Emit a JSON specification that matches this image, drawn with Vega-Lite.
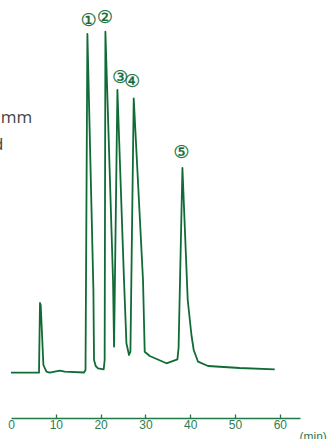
{
  "$schema": "https://vega.github.io/schema/vega-lite/v6.json",
  "width": 289,
  "height": 418,
  "autosize": {"type": "none"},
  "padding": {"left": 11, "top": 0, "right": 28, "bottom": 21},
  "background": "white",
  "config": {"view": {"stroke": null}},
  "datasets": {
    "trace": [
      {"t": 0, "v": 45.3},
      {"t": 6.25, "v": 45.3},
      {"t": 6.47, "v": 115},
      {"t": 6.63, "v": 113},
      {"t": 7.23, "v": 53},
      {"t": 7.9, "v": 46.3},
      {"t": 8.64, "v": 45.3},
      {"t": 10.87, "v": 47.3},
      {"t": 11.99, "v": 46.3},
      {"t": 16.3, "v": 45.5},
      {"t": 16.63, "v": 48},
      {"t": 17.05, "v": 384},
      {"t": 18.39, "v": 128},
      {"t": 18.53, "v": 58},
      {"t": 18.9, "v": 52},
      {"t": 19.42, "v": 49.7},
      {"t": 20.69, "v": 48.7},
      {"t": 20.9, "v": 58},
      {"t": 21.07, "v": 386.3},
      {"t": 22.77, "v": 138},
      {"t": 23.0, "v": 71.3},
      {"t": 23.75, "v": 328},
      {"t": 25.22, "v": 138},
      {"t": 25.76, "v": 74.7},
      {"t": 26.34, "v": 63},
      {"t": 26.65, "v": 66.3},
      {"t": 27.39, "v": 319.7},
      {"t": 29.46, "v": 138},
      {"t": 29.84, "v": 66.3},
      {"t": 30.96, "v": 62},
      {"t": 34.69, "v": 54.7},
      {"t": 37.14, "v": 58.7},
      {"t": 37.4, "v": 70},
      {"t": 38.26, "v": 250},
      {"t": 39.44, "v": 118},
      {"t": 40.27, "v": 83},
      {"t": 40.78, "v": 68},
      {"t": 41.74, "v": 56.3},
      {"t": 43.97, "v": 52},
      {"t": 51.05, "v": 50},
      {"t": 58.86, "v": 48.7}
    ],
    "peaks": [
      {"t": 17.34, "v": 397, "label": "①"},
      {"t": 20.92, "v": 399.7, "label": "②"},
      {"t": 24.35, "v": 339.7, "label": "③"},
      {"t": 27.05, "v": 336, "label": "④"},
      {"t": 38.04, "v": 264.7, "label": "⑤"}
    ],
    "noteLeft": [
      {"t": -2.3, "v": 295, "label": "mm"}
    ],
    "noteRight": [
      {"t": -1.67, "v": 268, "label": "d"}
    ]
  },
  "layer": [
    {
      "data": {"name": "trace"},
      "mark": {"type": "line", "color": "#106b36", "strokeWidth": 1.8, "strokeJoin": "round"},
      "encoding": {
        "x": {
          "field": "t", "type": "quantitative",
          "scale": {"domain": [0, 64.5], "nice": false},
          "axis": {
            "values": [0, 10, 20, 30, 40, 50, 60],
            "title": "(min)",
            "titleX": 288, "titleY": 13, "titleAlign": "left", "titleBaseline": "top",
            "titleAnchor": null, "titleAngle": 0,
            "titleFont": "Liberation Sans", "titleFontSize": 12, "titleFontWeight": "normal", "titleColor": "#2d7d52",
            "labelFont": "Liberation Sans", "labelFontSize": 12, "labelColor": "#2d7d52",
            "labelPadding": 5, "labelFlush": false, "labelOverlap": false,
            "domainColor": "#217a45", "domainWidth": 1.5,
            "tickSize": -4, "tickWidth": 1.3,
            "tickColor": {"condition": {"test": "datum.value === 0", "value": "transparent"}, "value": "#217a45"},
            "grid": false
          }
        },
        "y": {
          "field": "v", "type": "quantitative",
          "scale": {"domain": [0, 418], "nice": false},
          "axis": null
        }
      }
    },
    {
      "data": {"name": "peaks"},
      "mark": {"type": "text", "color": "#106b36", "font": "DejaVu Sans", "fontSize": 17.5, "fontWeight": "normal", "align": "center", "baseline": "middle", "stroke": "#106b36", "strokeWidth": 0.3},
      "encoding": {
        "x": {"field": "t", "type": "quantitative"},
        "y": {"field": "v", "type": "quantitative"},
        "text": {"field": "label"}
      }
    },
    {
      "data": {"name": "noteLeft"},
      "mark": {"type": "text", "color": "#444444", "font": "Open Sans", "fontSize": 17, "baseline": "alphabetic", "align": "left"},
      "encoding": {
        "x": {"field": "t", "type": "quantitative"},
        "y": {"field": "v", "type": "quantitative"},
        "text": {"field": "label"}
      }
    },
    {
      "data": {"name": "noteRight"},
      "mark": {"type": "text", "color": "#444444", "font": "Open Sans", "fontSize": 17, "baseline": "alphabetic", "align": "right"},
      "encoding": {
        "x": {"field": "t", "type": "quantitative"},
        "y": {"field": "v", "type": "quantitative"},
        "text": {"field": "label"}
      }
    }
  ]
}
